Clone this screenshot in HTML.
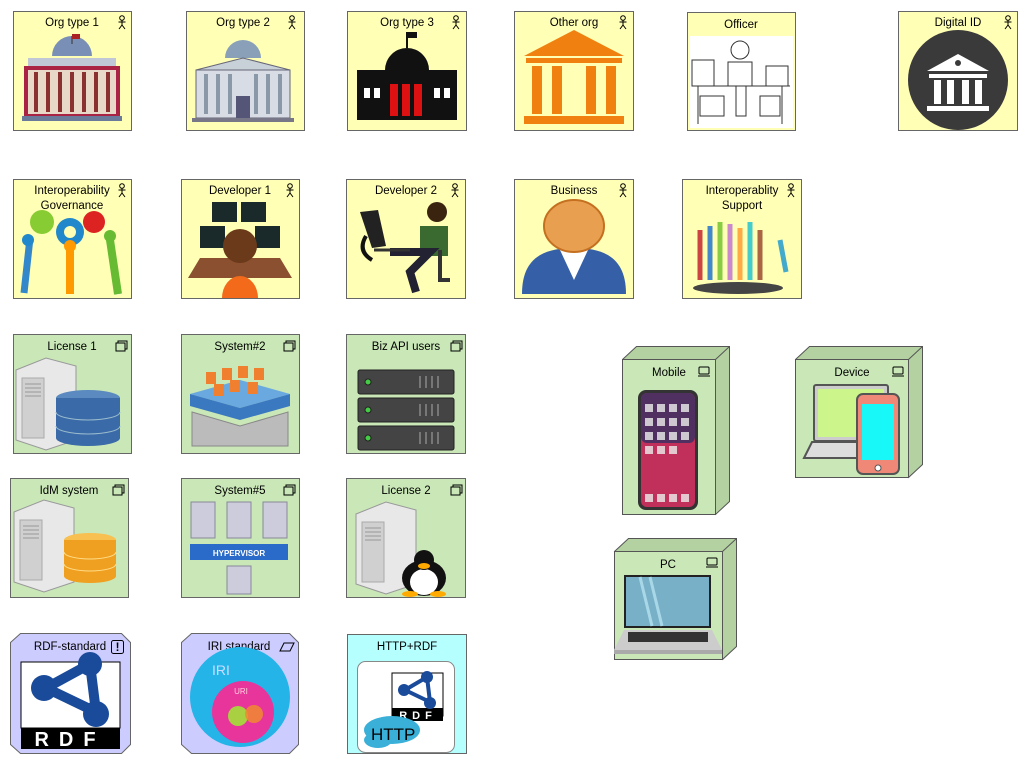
<!DOCTYPE html>
<html><head><meta charset="utf-8"><style>
html,body{margin:0;padding:0;background:#fff;}
svg{display:block;font-family:"Liberation Sans",sans-serif;}
text{font-size:11.5px;fill:#000;}
</style></head><body>
<svg width="1029" height="765" viewBox="0 0 1029 765" xmlns="http://www.w3.org/2000/svg">
<defs>
<g id="actor"><circle cx="0" cy="-4" r="2.3" fill="none" stroke="#000" stroke-width="1"/><path d="M0,-1.7V3M-3.5,0H3.5M0,3L-3,7M0,3L3,7" stroke="#000" stroke-width="1" fill="none"/></g>
<g id="nodeic"><rect x="-5" y="-5" width="10" height="8" fill="none" stroke="#000"/><path d="M-6,3H6V5H-6Z" fill="none" stroke="#000"/></g>
<g id="devic"><rect x="-5" y="-5" width="10" height="7" rx="1" fill="none" stroke="#000"/><path d="M-6,4H6" stroke="#000"/></g>
<g id="sysic"><rect x="-5" y="-3" width="9" height="8" fill="none" stroke="#000"/><path d="M-3,-3V-5H6V3H4" fill="none" stroke="#000"/></g>
<g id="server"><path d="M0,0L30,-12L60,-4V70L30,80L0,70Z" fill="#e8e8e8" stroke="#999"/><rect x="6" y="8" width="22" height="60" fill="#d0d0d0" stroke="#aaa"/><path d="M9,14H25M9,18H25M9,22H25M9,26H25" stroke="#999"/></g>
</defs>

<!-- Row 1: business actors -->
<g><rect x="13.5" y="11.5" width="118" height="119" fill="#ffffb5" stroke="#666"/><text x="72" y="26" text-anchor="middle">Org type 1</text><use href="#actor" x="122" y="22"/>
<g><path d="M52,56a20,20 0 0 1 40,0Z" fill="#7a8fb5"/><rect x="28" y="58" width="88" height="8" fill="#c0c8d8"/><rect x="24" y="66" width="96" height="52" fill="#a24" /><rect x="28" y="70" width="88" height="44" fill="#e8d8c8"/><path d="M36,72v40M48,72v40M60,72v40M72,72v40M84,72v40M96,72v40M108,72v40" stroke="#8a3030" stroke-width="4"/><rect x="22" y="116" width="100" height="5" fill="#6a7a9a"/><path d="M72,36V44" stroke="#333"/><rect x="72" y="34" width="8" height="5" fill="#a22"/></g></g>

<g><rect x="186.5" y="11.5" width="118" height="119" fill="#ffffb5" stroke="#666"/><text x="243" y="26" text-anchor="middle">Org type 2</text><use href="#actor" x="292" y="22"/>
<g><path d="M225,58a18,18 0 0 1 36,0Z" fill="#8aa0b8"/><path d="M196,70L243,58L290,70Z" fill="#c8d0d8" stroke="#667"/><rect x="196" y="70" width="94" height="48" fill="#d8dde5" stroke="#667"/><path d="M206,74v40M218,74v40M230,74v40M256,74v40M268,74v40M280,74v40" stroke="#8a98a8" stroke-width="4"/><rect x="236" y="96" width="14" height="22" fill="#557"/><rect x="192" y="118" width="102" height="4" fill="#778"/></g></g>

<g><rect x="347.5" y="11.5" width="119" height="119" fill="#ffffb5" stroke="#666"/><text x="407" y="26" text-anchor="middle">Org type 3</text><use href="#actor" x="456" y="22"/>
<g><path d="M385,70a22,22 0 0 1 44,0Z" fill="#111"/><path d="M407,48V32" stroke="#111" stroke-width="2"/><path d="M407,32h10v6h-10z" fill="#111"/><rect x="357" y="70" width="100" height="50" fill="#111"/><rect x="390" y="84" width="8" height="32" fill="#d11"/><rect x="402" y="84" width="8" height="32" fill="#d11"/><rect x="414" y="84" width="8" height="32" fill="#d11"/><rect x="364" y="88" width="6" height="10" fill="#fff"/><rect x="374" y="88" width="6" height="10" fill="#fff"/><rect x="434" y="88" width="6" height="10" fill="#fff"/><rect x="444" y="88" width="6" height="10" fill="#fff"/></g></g>

<g><rect x="514.5" y="11.5" width="119" height="119" fill="#ffffb5" stroke="#666"/><text x="574" y="26" text-anchor="middle">Other org</text><use href="#actor" x="623" y="22"/>
<g fill="#f08010"><path d="M524,56L574,30L624,56Z"/><rect x="526" y="58" width="96" height="5"/><rect x="532" y="66" width="10" height="48"/><rect x="552" y="66" width="10" height="48"/><rect x="586" y="66" width="10" height="48"/><rect x="606" y="66" width="10" height="48"/><rect x="524" y="116" width="100" height="8"/></g></g>

<g><rect x="687.5" y="12.5" width="108" height="118" fill="#ffffb5" stroke="#666"/><rect x="690" y="36" width="103" height="92" fill="#fff"/><text x="741" y="28" text-anchor="middle">Officer</text>
<g fill="none" stroke="#333"><circle cx="740" cy="50" r="9"/><path d="M728,62h24v24h-24z M692,86h98M698,86v38M782,86v38M700,96h24v20h-24z M760,96h20v20h-20z M736,86v30h10v-30"/><rect x="692" y="60" width="22" height="26"/><rect x="766" y="66" width="22" height="20"/></g></g>

<g><rect x="898.5" y="11.5" width="119" height="119" fill="#ffffb5" stroke="#666"/><text x="958" y="26" text-anchor="middle">Digital ID</text><use href="#actor" x="1008" y="22"/>
<g><circle cx="958" cy="80" r="50" fill="#3a3a3a"/><path d="M927,71L958,54L989,71Z" fill="#fff"/><rect x="929" y="74" width="58" height="4" fill="#fff"/><rect x="934" y="80" width="7" height="24" fill="#fff"/><rect x="947" y="80" width="7" height="24" fill="#fff"/><rect x="962" y="80" width="7" height="24" fill="#fff"/><rect x="975" y="80" width="7" height="24" fill="#fff"/><rect x="927" y="106" width="62" height="5" fill="#fff"/><circle cx="958" cy="63" r="3" fill="#3a3a3a"/></g></g>

<!-- Row 2 -->
<g><rect x="13.5" y="179.5" width="118" height="119" fill="#ffffb5" stroke="#666"/><text x="72" y="194" text-anchor="middle">Interoperability</text><text x="72" y="209" text-anchor="middle">Governance</text><use href="#actor" x="122" y="190"/>
<g><circle cx="42" cy="222" r="12" fill="#8c3"/><circle cx="70" cy="232" r="14" fill="#28c"/><circle cx="94" cy="222" r="11" fill="#d22"/><circle cx="70" cy="232" r="6" fill="#ffffb5"/><path d="M30,238l-6,55M70,250v44M110,240l8,54" stroke="#38c" stroke-width="7"/><path d="M70,250v44" stroke="#f90" stroke-width="8"/><path d="M110,240l8,54" stroke="#6b3" stroke-width="8"/><circle cx="28" cy="240" r="6" fill="#28c"/><circle cx="70" cy="246" r="6" fill="#f90"/><circle cx="110" cy="236" r="6" fill="#6b3"/></g></g>

<g><rect x="181.5" y="179.5" width="118" height="119" fill="#ffffb5" stroke="#666"/><text x="240" y="194" text-anchor="middle">Developer 1</text><use href="#actor" x="290" y="190"/>
<g><rect x="212" y="202" width="25" height="20" fill="#1a2a2a"/><rect x="241" y="202" width="25" height="20" fill="#1a2a2a"/><rect x="200" y="226" width="25" height="22" fill="#1a2a2a"/><rect x="255" y="226" width="25" height="22" fill="#1a2a2a"/><path d="M188,278L200,258H280L292,278Z" fill="#8a5030"/><circle cx="240" cy="246" r="17" fill="#6b3a1a"/><path d="M222,298a18,22 0 0 1 36,0Z" fill="#f26a1a"/></g></g>

<g><rect x="346.5" y="179.5" width="119" height="119" fill="#ffffb5" stroke="#666"/><text x="406" y="194" text-anchor="middle">Developer 2</text><use href="#actor" x="455" y="190"/>
<g><path d="M360,212l18,-2l8,36l-14,2z" fill="#222"/><circle cx="437" cy="212" r="10" fill="#3a2410"/><path d="M420,226h28v30h-28z" fill="#3a6a30"/><path d="M390,252h40l-20,20l6,20" stroke="#223" stroke-width="8" fill="none"/><path d="M374,250h36" stroke="#333" stroke-width="3"/><path d="M440,250v30h10" stroke="#333" stroke-width="4" fill="none"/><path d="M366,236c-6,10 -4,18 6,24" stroke="#111" stroke-width="4" fill="none"/></g></g>

<g><rect x="514.5" y="179.5" width="119" height="119" fill="#ffffb5" stroke="#666"/><text x="574" y="194" text-anchor="middle">Business</text><use href="#actor" x="623" y="190"/>
<g><path d="M522,294c0,-35 20,-46 52,-46s52,11 52,46z" fill="#3560a8"/><path d="M560,250l14,30l14,-30z" fill="#fff"/><ellipse cx="574" cy="226" rx="30" ry="26" fill="#e8a050" stroke="#c47020" stroke-width="2"/></g></g>

<g><rect x="682.5" y="179.5" width="119" height="119" fill="#ffffb5" stroke="#666"/><text x="742" y="194" text-anchor="middle">Interoperablity</text><text x="742" y="209" text-anchor="middle">Support</text><use href="#actor" x="791" y="190"/>
<g><ellipse cx="738" cy="288" rx="45" ry="6" fill="#444"/><g stroke-width="5"><path d="M700,230v50" stroke="#c44"/><path d="M710,226v54" stroke="#48c"/><path d="M720,222v58" stroke="#8c4"/><path d="M730,224v56" stroke="#c8c"/><path d="M740,228v52" stroke="#fa4"/><path d="M750,222v58" stroke="#4cc"/><path d="M760,230v50" stroke="#a64"/><path d="M780,240l6,32" stroke="#4ac"/></g></g></g>

<!-- Row 3-4: system software -->
<g><rect x="13.5" y="334.5" width="118" height="119" fill="#c9e7b7" stroke="#666"/><text x="72" y="350" text-anchor="middle">License 1</text><use href="#sysic" x="121" y="346"/>
<g><use href="#server" x="16" y="370"/><ellipse cx="88" cy="398" rx="32" ry="8" fill="#5a8ac0"/><rect x="56" y="398" width="64" height="40" fill="#3a6aa8"/><ellipse cx="88" cy="438" rx="32" ry="8" fill="#3a6aa8"/><path d="M56,412a32,8 0 0 0 64,0M56,426a32,8 0 0 0 64,0" stroke="#9bc" fill="none"/></g></g>

<g><rect x="181.5" y="334.5" width="118" height="119" fill="#c9e7b7" stroke="#666"/><text x="240" y="350" text-anchor="middle">System#2</text><use href="#sysic" x="289" y="346"/>
<g><path d="M190,394L240,380L290,394L240,408Z" fill="#6aa8e0"/><path d="M190,394v12l50,14v-12zM290,394v12l-50,14v-12z" fill="#3a78c0"/><path d="M192,412L240,426L288,412V446H192Z" fill="#bbb" stroke="#888"/><g fill="#f08030"><rect x="206" y="372" width="10" height="12"/><rect x="222" y="368" width="10" height="12"/><rect x="238" y="366" width="10" height="12"/><rect x="254" y="368" width="10" height="12"/><rect x="230" y="380" width="10" height="12"/><rect x="214" y="384" width="10" height="12"/><rect x="248" y="382" width="10" height="12"/></g></g></g>

<g><rect x="346.5" y="334.5" width="119" height="119" fill="#c9e7b7" stroke="#666"/><text x="406" y="350" text-anchor="middle">Biz API users</text><use href="#sysic" x="456" y="346"/>
<g fill="#444" stroke="#222"><rect x="358" y="370" width="96" height="24" rx="2"/><rect x="358" y="398" width="96" height="24" rx="2"/><rect x="358" y="426" width="96" height="24" rx="2"/><circle cx="368" cy="382" r="3" fill="#4c4"/><circle cx="368" cy="410" r="3" fill="#4c4"/><circle cx="368" cy="438" r="3" fill="#4c4"/><path d="M420,376v12M426,376v12M432,376v12M438,376v12M420,404v12M426,404v12M432,404v12M438,404v12M420,432v12M426,432v12M432,432v12M438,432v12" stroke="#aaa"/></g></g>

<g><rect x="10.5" y="478.5" width="118" height="119" fill="#c9e7b7" stroke="#666"/><text x="69" y="494" text-anchor="middle">IdM system</text><use href="#sysic" x="118" y="490"/>
<g><use href="#server" x="14" y="512"/><ellipse cx="90" cy="540" rx="26" ry="7" fill="#f8c050"/><rect x="64" y="540" width="52" height="36" fill="#f0a020"/><ellipse cx="90" cy="576" rx="26" ry="7" fill="#f0a020"/><path d="M64,552a26,7 0 0 0 52,0M64,564a26,7 0 0 0 52,0" stroke="#fd8" fill="none"/></g></g>

<g><rect x="181.5" y="478.5" width="118" height="119" fill="#c9e7b7" stroke="#666"/><text x="240" y="494" text-anchor="middle">System#5</text><use href="#sysic" x="289" y="490"/>
<g><g fill="#ccd" stroke="#889"><rect x="191" y="502" width="24" height="36"/><rect x="227" y="502" width="24" height="36"/><rect x="263" y="502" width="24" height="36"/><rect x="227" y="566" width="24" height="28"/></g><rect x="190" y="544" width="98" height="16" fill="#2a6ac8"/><text x="239" y="556" text-anchor="middle" style="font-size:8px;font-weight:bold;fill:#fff">HYPERVISOR</text></g></g>

<g><rect x="346.5" y="478.5" width="119" height="119" fill="#c9e7b7" stroke="#666"/><text x="406" y="494" text-anchor="middle">License 2</text><use href="#sysic" x="456" y="490"/>
<g><use href="#server" x="356" y="514"/><ellipse cx="424" cy="578" rx="22" ry="18" fill="#111"/><ellipse cx="424" cy="582" rx="14" ry="13" fill="#fff"/><circle cx="424" cy="560" r="10" fill="#111"/><ellipse cx="424" cy="566" rx="6" ry="3" fill="#fa0"/><ellipse cx="410" cy="594" rx="8" ry="3" fill="#fa0"/><ellipse cx="438" cy="594" rx="8" ry="3" fill="#fa0"/></g></g>

<!-- Row 5 -->
<g><path d="M20.5,633.5H121.5L130.5,642.5V744.5L121.5,753.5H20.5L10.5,744.5V642.5Z" fill="#ccccff" stroke="#666"/><text x="70" y="650" text-anchor="middle">RDF-standard</text><rect x="111.5" y="640.5" width="12" height="13" rx="2" fill="none" stroke="#000"/><text x="117.5" y="651" text-anchor="middle" style="font-weight:bold">!</text>
<g><rect x="21" y="662" width="99" height="66" fill="#fff" stroke="#000"/><rect x="21" y="728" width="99" height="21" fill="#000"/><text x="70" y="746" text-anchor="middle" style="font-size:20px;font-weight:bold;fill:#fff;letter-spacing:10px">RDF</text><path d="M46,688L90,664L96,712Z" fill="none" stroke="#1a4a9a" stroke-width="10"/><circle cx="90" cy="664" r="12" fill="#1a4a9a"/><circle cx="44" cy="688" r="13" fill="#1a4a9a"/><circle cx="96" cy="714" r="13" fill="#1a4a9a"/></g></g>

<g><path d="M191.5,633.5H289.5L298.5,642.5V744.5L289.5,753.5H191.5L181.5,744.5V642.5Z" fill="#ccccff" stroke="#666"/><text x="239" y="650" text-anchor="middle">IRI standard</text><path d="M280,651L284,643H294L290,651Z" fill="none" stroke="#000"/>
<g><circle cx="240" cy="697" r="50" fill="#24b4e8"/><text x="212" y="675" style="font-size:14px;fill:#cdf">IRI</text><circle cx="243" cy="712" r="31" fill="#e8359c"/><text x="241" y="694" text-anchor="middle" style="font-size:8px;fill:#fcd">URI</text><circle cx="238" cy="716" r="10" fill="#a8d040"/><circle cx="254" cy="714" r="9" fill="#f08a30" opacity=".85"/></g></g>

<g><rect x="347.5" y="634.5" width="119" height="119" fill="#b5ffff" stroke="#666"/><text x="407" y="650" text-anchor="middle">HTTP+RDF</text>
<g><rect x="357.5" y="661.5" width="97" height="91" rx="8" fill="#fff" stroke="#888"/><rect x="392" y="673" width="51" height="43" fill="#fff" stroke="#000"/><rect x="392" y="708" width="51" height="13" fill="#000"/><text x="418" y="719" text-anchor="middle" style="font-size:11px;font-weight:bold;fill:#fff;letter-spacing:5px">RDF</text><path d="M405,690L427,677L430,702Z" fill="none" stroke="#1a4a9a" stroke-width="4"/><circle cx="427" cy="677" r="6" fill="#1a4a9a"/><circle cx="404" cy="690" r="6" fill="#1a4a9a"/><circle cx="430" cy="703" r="6" fill="#1a4a9a"/><ellipse cx="392" cy="730" rx="28" ry="14" fill="#3ab0d8"/><ellipse cx="378" cy="740" rx="14" ry="8" fill="#3ab0d8"/><text x="371" y="740" style="font-size:17px;fill:#000">HTTP</text></g></g>

<!-- Nodes -->
<g><path d="M622.5,359.5L636.5,346.5H729.5V501.5L715.5,514.5Z" fill="#b3d1a1" stroke="#555"/><rect x="622.5" y="359.5" width="93" height="155" fill="#c9e7b7" stroke="#555"/><path d="M715.5,359.5L729.5,346.5" stroke="#555"/><text x="669" y="376" text-anchor="middle">Mobile</text><use href="#devic" x="704" y="372"/>
<g><rect x="638" y="390" width="60" height="120" rx="8" fill="#333"/><rect x="641" y="393" width="54" height="114" rx="6" fill="#c0305a"/><rect x="641" y="393" width="54" height="50" rx="6" fill="#503060"/><g fill="#eee" opacity=".8"><rect x="645" y="404" width="8" height="8"/><rect x="657" y="404" width="8" height="8"/><rect x="669" y="404" width="8" height="8"/><rect x="681" y="404" width="8" height="8"/><rect x="645" y="418" width="8" height="8"/><rect x="657" y="418" width="8" height="8"/><rect x="669" y="418" width="8" height="8"/><rect x="681" y="418" width="8" height="8"/><rect x="645" y="432" width="8" height="8"/><rect x="657" y="432" width="8" height="8"/><rect x="669" y="432" width="8" height="8"/><rect x="681" y="432" width="8" height="8"/><rect x="645" y="446" width="8" height="8"/><rect x="657" y="446" width="8" height="8"/><rect x="669" y="446" width="8" height="8"/><rect x="645" y="494" width="8" height="8"/><rect x="657" y="494" width="8" height="8"/><rect x="669" y="494" width="8" height="8"/><rect x="681" y="494" width="8" height="8"/></g></g></g>

<g><path d="M795.5,359.5L809.5,346.5H922.5V464.5L908.5,477.5Z" fill="#b3d1a1" stroke="#555"/><rect x="795.5" y="359.5" width="113" height="118" fill="#c9e7b7" stroke="#555"/><path d="M908.5,359.5L922.5,346.5" stroke="#555"/><text x="852" y="376" text-anchor="middle">Device</text><use href="#devic" x="898" y="372"/>
<g><rect x="814" y="385" width="74" height="56" rx="2" fill="#ccc" stroke="#555" stroke-width="2"/><rect x="818" y="389" width="66" height="48" fill="#ccf58c"/><path d="M804,458L812,442H890L898,458Z" fill="#ddd" stroke="#555" stroke-width="2"/><rect x="857" y="394" width="42" height="80" rx="6" fill="#f08878" stroke="#555" stroke-width="2"/><rect x="862" y="404" width="32" height="56" fill="#18f8f8"/><circle cx="878" cy="468" r="3" fill="#fff" stroke="#555"/></g></g>

<g><path d="M614.5,551.5L628.5,538.5H736.5V646.5L722.5,659.5Z" fill="#b3d1a1" stroke="#555"/><rect x="614.5" y="551.5" width="108" height="108" fill="#c9e7b7" stroke="#555"/><path d="M722.5,551.5L736.5,538.5" stroke="#555"/><text x="668" y="568" text-anchor="middle">PC</text><use href="#devic" x="712" y="563"/>
<g><rect x="624" y="575" width="87" height="53" fill="#222"/><rect x="626" y="577" width="83" height="49" fill="#78b0c8"/><path d="M640,577L652,626M650,577L662,626" stroke="#a8d8e8" stroke-width="3"/><path d="M614,650L624,630H712L722,650Z" fill="#ccc"/><rect x="628" y="632" width="80" height="10" fill="#333"/><rect x="614" y="650" width="108" height="4" fill="#aaa"/></g></g>
</svg>
</body></html>
